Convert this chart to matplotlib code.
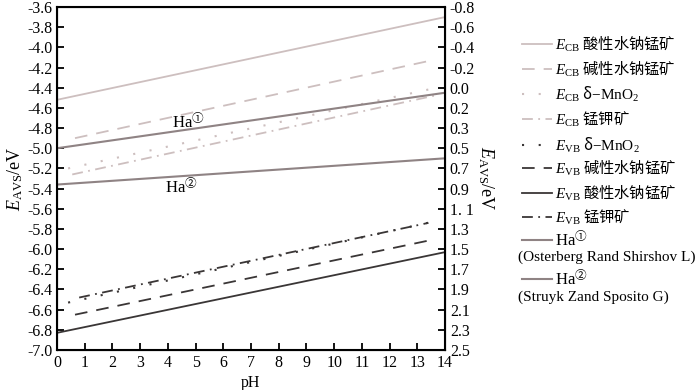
import matplotlib
matplotlib.use("Agg")
import matplotlib.pyplot as plt
from matplotlib.lines import Line2D

plt.rcParams['axes.unicode_minus'] = False
plt.rcParams['mathtext.fontset'] = 'custom'
plt.rcParams['mathtext.rm'] = 'Liberation Serif'
plt.rcParams['mathtext.it'] = 'Liberation Serif:italic'
plt.rcParams['mathtext.sf'] = 'Noto Sans CJK SC'
plt.rcParams['font.family'] = ['Liberation Serif', 'Noto Sans CJK SC']

# ---- data ----
series_names = ["CB_acid", "CB_alk", "CB_delta", "CB_cryp",
                "VB_delta", "VB_alk", "VB_acid", "VB_cryp", "Ha1", "Ha2"]
ph_start = [0.0, 0.65, 0.4, 0.55, 0.4, 0.65, 0.0, 0.8, 0.0, 0.0]
ph_end = [14.0, 13.5, 13.7, 13.6, 13.7, 13.5, 14.0, 13.4, 14.0, 14.0]
e_start = [-4.52, -4.90, -5.20, -5.26, -6.53, -6.65, -6.83, -6.48, -5.00, -5.36]
e_end = [-3.70, -4.13, -4.40, -4.48, -5.72, -5.91, -6.03, -5.74, -4.45, -5.10]

legend_labels = [
    r"$E_{\rm CB}$ 酸性水钠锰矿",
    r"$E_{\rm CB}$ 碱性水钠锰矿",
    r"$E_{\rm CB}$ δ$-\mathrm{MnO_2}$",
    r"$E_{\rm CB}$ 锰钾矿",
    r"$E_{\rm VB}$ δ$-\mathrm{MnO_2}$",
    r"$E_{\rm VB}$ 碱性水钠锰矿",
    r"$E_{\rm VB}$ 酸性水钠锰矿",
    r"$E_{\rm VB}$ 锰钾矿",
    r"Ha$^{\mathsf{①}}$",
    r"Ha$^{\mathsf{②}}$",
]
legend_sub = ["", "", "", "", "", "", "", "", "(Osterberg Rand Shirshov L)", "(Struyk Zand Sposito G)"]

left_ticks = [-3.6, -3.8, -4.0, -4.2, -4.4, -4.6, -4.8, -5.0, -5.2, -5.4,
              -5.6, -5.8, -6.0, -6.2, -6.4, -6.6, -6.8, -7.0]
right_tick_labels = ["-0.8", "-0.6", "-0.4", "-0.2", "0.0", "0.2", "0.3", "0.5", "0.7",
                     "0.9", "1. 1", "1.3", "1.5", "1.7", "1.9", "2.1", "2.3", "2.5"]
x_ticks = list(range(0, 15))

# ---- styles ----
c_light = '#cdbfbf'
c_ha = '#8f8384'
c_dark = '#3a3636'
colors = [c_light, c_light, c_light, c_light, c_dark, c_dark, c_dark, c_dark, c_ha, c_ha]
styles = ['-', (0, (7, 5)), (0, (1, 7)), (0, (6, 3, 1, 3)),
          (0, (1, 7)), (0, (7, 5)), '-', (0, (6, 3, 1, 3)), '-', '-']
widths = [1.3, 1.3, 1.5, 1.3, 1.5, 1.3, 1.3, 1.3, 1.5, 1.5]

fig = plt.figure(figsize=(7, 3.9), dpi=100)
ax = fig.add_axes([57/700, 1-350/390, (445-57)/700, (350-7)/390])

for i in range(len(series_names)):
    ax.plot([ph_start[i], ph_end[i]], [e_start[i], e_end[i]], color=colors[i],
            linestyle=styles[i], linewidth=widths[i])

ax.set_xlim(0, 14)
ax.set_ylim(-7.0, -3.6)
ax.set_xticks(x_ticks)
ax.set_yticks(left_ticks)
ax.set_yticklabels([f"{v:.1f}" for v in left_ticks])
ax.tick_params(direction='in', length=5, width=1.3, labelsize=11.5)
for s in ax.spines.values():
    s.set_linewidth(1.5)
ax.set_xlabel("pH", fontsize=11.5, labelpad=3)
ax.set_ylabel(r"$E_{\rm AVS}$/eV", fontsize=13, labelpad=1)

ax2 = ax.twinx()
ax2.set_ylim(-7.0, -3.6)
ax2.set_yticks(left_ticks)
ax2.set_yticklabels(right_tick_labels)
ax2.tick_params(direction='in', length=5, width=1.3, labelsize=11.5)
ax2.set_ylabel(r"$E_{\rm AVS}$/eV", fontsize=13, rotation=270, labelpad=15)

ax.text(4.15, -4.74, r"Ha$^{\mathsf{①}}$", fontsize=12, ha='left', va='center')
ax.text(3.9, -5.38, r"Ha$^{\mathsf{②}}$", fontsize=12, ha='left', va='center')

# ---- manual legend (figure pixels) ----
W, H = 700, 390
row_y = [44, 69, 94, 119, 145, 168, 193, 217, 240, 279]
sub_y = [0, 0, 0, 0, 0, 0, 0, 0, 257, 297]
for i in range(len(series_names)):
    y = 1 - row_y[i]/H
    x0, x1 = 522/W, 552/W
    fig.add_artist(Line2D([x0, x1], [y, y], color=colors[i], linestyle=styles[i],
                          linewidth=widths[i], transform=fig.transFigure))
    fam = ['Noto Sans CJK SC'] if i < 8 else ['Liberation Serif']
    fig.text(555/W, y, legend_labels[i], fontsize=11 if i < 8 else 12,
             family=fam, va='center', ha='left')
    if legend_sub[i]:
        fig.text(518/W, 1 - sub_y[i]/H, legend_sub[i], fontsize=11,
                 family=['Liberation Serif'], va='center', ha='left')

fig.savefig("out.png", dpi=100)
